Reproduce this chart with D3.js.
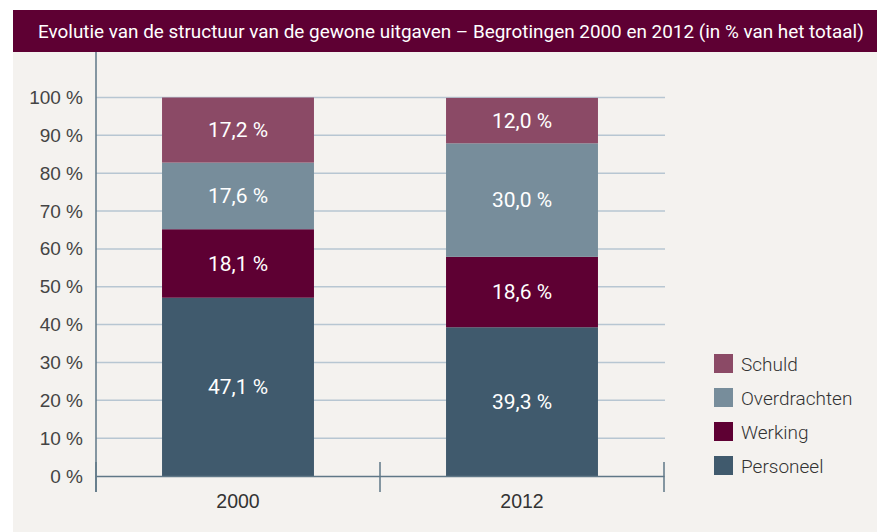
<!DOCTYPE html>
<html>
<head>
<meta charset="utf-8">
<script src="https://cdn.jsdelivr.net/npm/d3@7"></script>
<style>
    body { margin: 0; background: #ffffff; }
    svg { display: block; font-family: Roboto, "Open Sans", sans-serif; }
</style>
</head>
<body>
<div id="chart"></div>
<script>
    // data
    var years = ['2000', '2012'];
    var series = ['Personeel', 'Werking', 'Overdrachten', 'Schuld'];
    var personeel = [47.1, 39.3];
    var werking = [18.1, 18.6];
    var overdrachten = [17.6, 30.0];
    var schuld = [17.2, 12.0];
    var yTicks = [0, 10, 20, 30, 40, 50, 60, 70, 80, 90, 100];
    var title = 'Evolutie van de structuur van de gewone uitgaven \u2013 Begrotingen 2000 en 2012 (in % van het totaal)';

    var colors = {
        Personeel: '#405a6d',
        Werking: '#5e0033',
        Overdrachten: '#778d9b',
        Schuld: '#8b4a66'
    };

    var width = 877, height = 532;

    var svg = d3.select('#chart').append('svg')
        .attr('width', width)
        .attr('height', height);

    // panel and title bar
    svg.append('rect')
        .attr('x', 13).attr('y', 52)
        .attr('width', width - 13).attr('height', height - 52)
        .attr('fill', '#f4f2ef');
    svg.append('rect')
        .attr('x', 13).attr('y', 10)
        .attr('width', width - 13).attr('height', 42)
        .attr('fill', '#5e0033');
    svg.append('text')
        .attr('x', 38).attr('y', 38)
        .attr('fill', '#ffffff')
        .style('font-size', '18.9px')
        .text(title);

    // build stacked table
    var table = years.map(function (y, i) {
        return {year: y, Personeel: personeel[i], Werking: werking[i], Overdrachten: overdrachten[i], Schuld: schuld[i]};
    });
    var stacked = d3.stack().keys(series)(table);

    var x = d3.scaleBand().domain(years).range([96, 664]).padding(0);
    var xBar = d3.scaleBand().domain(years).range([96, 664]).paddingInner(0.465).paddingOuter(0.2325);
    var y = d3.scaleLinear().domain([0, 100]).range([476, 97.5]);

    // gridlines
    svg.append('g')
        .selectAll('line')
        .data(yTicks.filter(function (d) { return d > 0; }))
        .enter().append('line')
        .attr('x1', 96).attr('x2', 665)
        .attr('y1', function (d) { return y(d); })
        .attr('y2', function (d) { return y(d); })
        .attr('stroke', '#b7c6d2')
        .attr('stroke-width', 1.5);

    // y axis
    var yAxis = svg.append('g')
        .attr('transform', 'translate(96,0)')
        .call(d3.axisLeft(y).tickValues(yTicks).tickSize(0).tickPadding(13)
            .tickFormat(function (d) { return d + ' %'; }));
    yAxis.select('.domain').remove();
    yAxis.selectAll('text')
        .attr('fill', '#444444')
        .style('font-size', '19px')
        .style('font-weight', 300);
    svg.append('line')
        .attr('x1', 96).attr('x2', 96)
        .attr('y1', 52).attr('y2', 492)
        .attr('stroke', '#5f7787')
        .attr('stroke-width', 1.5);

    // bars
    var layers = svg.append('g').selectAll('g')
        .data(stacked)
        .enter().append('g')
        .attr('fill', function (d) { return colors[d.key]; });

    layers.selectAll('rect')
        .data(function (d) { return d; })
        .enter().append('rect')
        .attr('x', function (d) { return xBar(d.data.year); })
        .attr('width', xBar.bandwidth())
        .attr('y', function (d) { return y(d[1]); })
        .attr('height', function (d) { return y(d[0]) - y(d[1]); });

    layers.selectAll('text')
        .data(function (d) { return d.map(function (p) { return {p: p, key: d.key}; }); })
        .enter().append('text')
        .attr('x', function (d) { return xBar(d.p.data.year) + xBar.bandwidth() / 2; })
        .attr('y', function (d) { return (y(d.p[0]) + y(d.p[1])) / 2; })
        .attr('dy', '0.35em')
        .attr('text-anchor', 'middle')
        .attr('fill', '#ffffff')
        .style('font-size', '21px')
        .text(function (d) { return d3.format('.1f')(d.p.data[d.key]).replace('.', ',') + ' %'; });

    // x axis
    var xAxis = svg.append('g')
        .attr('transform', 'translate(0,' + y(0) + ')')
        .call(d3.axisBottom(x).tickSize(0).tickPadding(18));
    xAxis.select('.domain')
        .attr('stroke', '#5f7787')
        .attr('stroke-width', 1.5);
    xAxis.selectAll('text')
        .attr('fill', '#333333')
        .style('font-size', '19.5px')
        .style('font-weight', 300);

    var bounds = years.map(function (d) { return x(d); }).concat([x.range()[1]]);
    svg.append('g').selectAll('line')
        .data(bounds)
        .enter().append('line')
        .attr('x1', function (d) { return d; })
        .attr('x2', function (d) { return d; })
        .attr('y1', y(0) - 14).attr('y2', y(0) + 16)
        .attr('stroke', '#5f7787')
        .attr('stroke-width', 1.5);

    // legend
    var legendKeys = ['Schuld', 'Overdrachten', 'Werking', 'Personeel'];
    var legend = svg.append('g').selectAll('g')
        .data(legendKeys)
        .enter().append('g')
        .attr('transform', function (d, i) { return 'translate(714,' + (354 + i * 34) + ')'; });
    legend.append('rect')
        .attr('width', 19).attr('height', 19)
        .attr('fill', function (d) { return colors[d]; });
    legend.append('text')
        .attr('x', 27).attr('y', 10)
        .attr('dy', '0.35em')
        .attr('fill', '#333333')
        .style('font-size', '19px')
        .style('font-weight', 300)
        .text(function (d) { return d; });
</script>
</body>
</html>
